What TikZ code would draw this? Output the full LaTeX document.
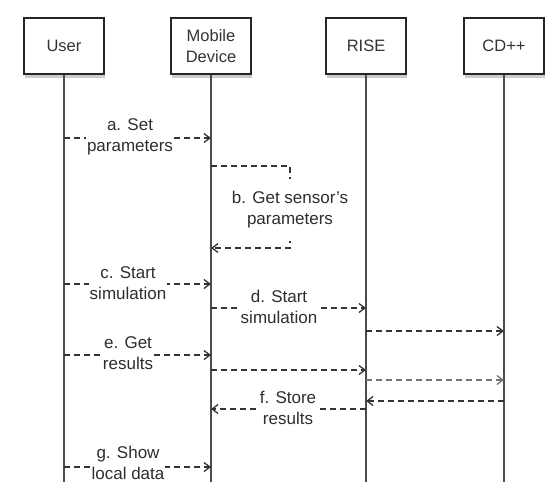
\documentclass[tikz,border=0pt]{standalone}
\usepackage{fontspec}
\setmainfont{Liberation Sans}
\usetikzlibrary{shadows,arrows.meta}
\begin{document}
\begin{tikzpicture}[x=1pt,y=-1pt,
  actor/.style={draw=black!85,line width=1.6pt,fill=white,minimum width=80pt,minimum height=56pt,align=center,font=\fontsize{16.5}{21}\selectfont,text=black!80,drop shadow={shadow xshift=0.5pt,shadow yshift=-4pt,opacity=0.4}},
  life/.style={draw=black!70,line width=1.5pt},
  msg/.style={draw=black!80,line width=1.3pt,dash pattern=on 6pt off 4pt,-{Straight Barb[length=6pt,width=9pt]}},
  lbl/.style={fill=white,align=center,inner sep=1pt,font=\fontsize{17}{21}\selectfont,text=black!82}]
\useasboundingbox (0,0) rectangle (556,482);
\node[actor] (user) at (64,46) {User};
\node[actor] (mob) at (211,46) {Mobile\\Device};
\node[actor] (rise) at (366,46) {RISE};
\node[actor] (cd) at (504,46) {CD++};
\draw[life] (user.south) -- (user.south |- 0,482);
\draw[life] (mob.south) -- (mob.south |- 0,482);
\draw[life] (rise.south) -- (rise.south |- 0,482);
\draw[life] (cd.south) -- (cd.south |- 0,482);
% a
\draw[msg] (user.south |- 0,138) -- (mob.south |- 0,138);
\node[lbl] (la) at (130,137) {a. Set\\parameters};
% b
\coordinate (b1) at (290,166);
\coordinate (b2) at (290,248);
\draw[msg] (mob.south |- 0,166) -- (b1) -- (b2) -- (mob.south |- 0,248);
\node[lbl,inner ysep=13pt] (lb) at (290,210) {b. Get sensor's\\parameters};
% c
\draw[msg] (user.south |- 0,284) -- (mob.south |- 0,284);
\node[lbl] (lc) at (128,283) {c. Start\\simulation};
% d
\draw[msg] (mob.south |- 0,308) -- (rise.south |- 0,308);
\node[lbl] (ld) at (279,307) {d. Start\\simulation};
\draw[msg] (rise.south |- 0,331) -- (cd.south |- 0,331);
% e
\draw[msg] (user.south |- 0,355) -- (mob.south |- 0,355);
\node[lbl] (le) at (128,353) {e. Get\\results};
\draw[msg] (mob.south |- 0,370) -- (rise.south |- 0,370);
\draw[msg,draw=black!55] (rise.south |- 0,380) -- (cd.south |- 0,380);
\draw[msg] (cd.south |- 0,401) -- (rise.south |- 0,401);
% f
\draw[msg] (rise.south |- 0,409) -- (mob.south |- 0,409);
\node[lbl] (lf) at (288,408) {f. Store\\results};
% g
\draw[msg] (user.south |- 0,467) -- (mob.south |- 0,467);
\node[lbl] (lg) at (128,463) {g. Show\\local data};
\end{tikzpicture}
\end{document}
